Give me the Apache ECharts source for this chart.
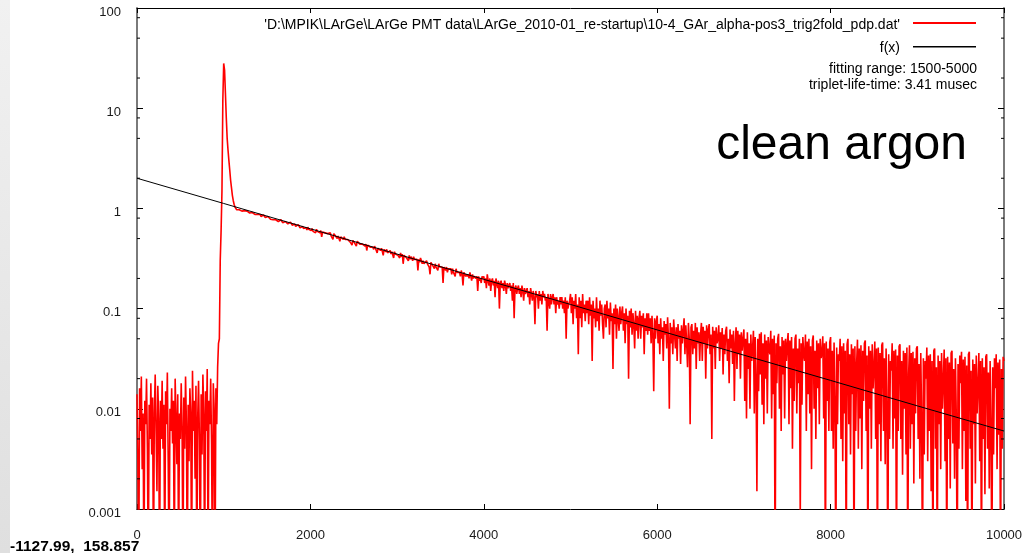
<!DOCTYPE html>
<html><head><meta charset="utf-8">
<script src="https://cdn.jsdelivr.net/npm/echarts@6/dist/echarts.min.js"></script>
<style>html,body{margin:0;padding:0;background:#fff}#c{width:1028px;height:553px}</style>
</head><body><div id="c"></div>
<script>
// ---- data ----
const sampleStep = 10; // x spacing of the recorded samples
// x = 0 .. 890 (pre-trigger baseline noise)
const noiseBefore = [
.014,.003,.0002,.016,.006,.021,.0025,.009,.0002,.012,
.007,.02,.004,.0002,.011,.005,.018,.0035,.013,.0002,
.009,.022,.006,.0015,.017,.008,.0002,.012,.005,.019,
.004,.011,.0002,.015,.007,.023,.003,.0002,.01,.006,
.016,.0045,.012,.0002,.02,.008,.0028,.014,.0002,.009,
.005,.018,.0065,.0002,.013,.004,.021,.007,.0002,.011,
.003,.016,.009,.0002,.024,.006,.012,.002,.017,.0002,
.008,.019,.005,.0002,.014,.0035,.022,.009,.0002,.015,
.006,.025,.0002,.012,.007,.02,.0045,.0002,.018,.01
];
// x = 900 .. 1190 (scintillation pulse)
const pulse = [
.0002,.016,.007,.026,.045,.05,.3,.6,1.5,12,
28,24,14,8,5,3.8,3,2.4,1.9,1.6,
1.35,1.2,1.1,1.03,.99,.97,.98,.95,.97,.94
];
// x = 1200 .. 2990
const slowA = [
.96,.94,.97,.93,.95,.92,.96,.94,.91,.93,
.9,.92,.89,.91,.88,.9,.87,.91,.89,.87,
.86,.84,.87,.83,.85,.82,.86,.84,.81,.83,
.81,.83,.8,.82,.78,.81,.79,.77,.8,.78,
.77,.75,.78,.74,.76,.73,.77,.74,.72,.75,
.72,.74,.71,.73,.7,.72,.69,.73,.7,.68,
.69,.67,.7,.66,.68,.65,.69,.66,.64,.67,
.64,.66,.63,.65,.62,.64,.61,.65,.62,.6,
.62,.6,.63,.59,.61,.6,.57,.62,.59,.6,
.59,.57,.6,.52,.58,.56,.59,.57,.55,.58,
.56,.54,.55,.57,.53,.55,.49,.56,.54,.53,
.52,.5,.53,.51,.47,.52,.5,.51,.49,.52,
.49,.5,.47,.49,.48,.5,.46,.48,.43,.48,
.47,.45,.46,.42,.47,.45,.46,.44,.46,.43,
.44,.43,.45,.42,.44,.38,.43,.42,.44,.41,
.42,.4,.41,.39,.42,.4,.41,.36,.4,.39,
.39,.38,.4,.37,.34,.39,.38,.37,.39,.36,
.37,.36,.38,.35,.37,.36,.32,.37,.35,.36
];
// x = 3000 .. 4990
const slowB = [
.36,.34,.35,.32,.36,.33,.35,.28,.34,.33,
.34,.32,.33,.3,.34,.31,.33,.32,.3,.33,
.31,.32,.3,.31,.24,.31,.29,.32,.3,.28,
.3,.28,.29,.27,.3,.28,.29,.26,.22,.29,
.28,.27,.28,.25,.28,.26,.27,.24,.28,.26,
.27,.25,.26,.18,.26,.25,.24,.26,.23,.25,
.25,.24,.25,.22,.25,.23,.24,.21,.25,.23,
.24,.22,.23,.21,.24,.22,.17,.23,.22,.21,
.22,.21,.22,.2,.23,.21,.19,.22,.2,.21,
.21,.2,.21,.15,.21,.19,.2,.18,.21,.2,
.21,.18,.2,.16,.22,.19,.17,.2,.15,.19,
.2,.17,.19,.13,.2,.18,.16,.19,.1,.18,
.19,.16,.18,.15,.19,.17,.14,.18,.16,.17,
.18,.15,.17,.12,.18,.08,.16,.17,.14,.16,
.17,.14,.16,.13,.17,.15,.12,.16,.14,.15,
.16,.13,.15,.11,.16,.14,.12,.15,.13,.07,
.15,.13,.14,.1,.15,.12,.14,.11,.15,.13,
.14,.12,.13,.06,.14,.12,.1,.14,.11,.13,
.14,.11,.13,.09,.13,.11,.12,.1,.13,.11,
.13,.1,.12,.09,.13,.05,.12,.1,.11,.12
];
// x = 5000 .. 6990
const slowC = [
.14,.09,.13,.07,.12,.1,.14,.08,.11,.035,
.13,.08,.12,.065,.14,.09,.11,.075,.12,.09,
.12,.07,.13,.085,.11,.03,.12,.08,.1,.065,
.13,.075,.1,.06,.12,.085,.11,.07,.05,.1,
.11,.065,.12,.08,.1,.055,.115,.075,.09,.025,
.1,.07,.11,.05,.1,.08,.06,.105,.07,.09,
.105,.06,.09,.045,.1,.07,.085,.02,.095,.065,
.1,.055,.09,.07,.04,.095,.06,.085,.05,.08,
.095,.05,.085,.065,.09,.035,.08,.06,.09,.055,
.09,.06,.08,.045,.085,.055,.015,.08,.05,.075,
.085,.045,.07,.035,.08,.05,.065,.03,.075,.055,
.07,.04,.082,.05,.01,.072,.045,.065,.035,.078,
.075,.04,.065,.03,.07,.05,.06,.028,.068,.045,
.06,.08,.035,.068,.045,.026,.072,.05,.007,.065,
.07,.035,.06,.04,.072,.025,.065,.045,.058,.03,
.055,.072,.03,.066,.045,.06,.02,.068,.04,.062,
.07,.035,.055,.005,.066,.04,.06,.025,.065,.045,
.05,.068,.03,.058,.04,.064,.022,.055,.035,.06,
.066,.03,.05,.018,.062,.04,.055,.028,.06,.012,
.045,.065,.025,.06,.035,.055,.02,.058,.038,.05
];
// x = 7000 .. 8990
const slowD = [
.062,.012,.05,.008,.058,.025,.045,.01,.055,.03,
.04,.06,.009,.052,.02,.0015,.05,.015,.056,.022,
.058,.011,.045,.007,.055,.02,.048,.009,.052,.04,
.035,.06,.008,.05,.014,.054,.0002,.045,.018,.05,
.056,.01,.042,.006,.052,.022,.048,.008,.05,.03,
.045,.057,.007,.048,.016,.052,.004,.04,.012,.05,
.055,.009,.04,.018,.05,.0008,.045,.011,.052,.035,
.03,.055,.006,.047,.014,.05,.009,.042,.0025,.048,
.054,.01,.038,.005,.048,.016,.045,.007,.05,.032,
.036,.053,.008,.045,.0002,.047,.012,.04,.006,.046,
.052,.006,.038,.004,.046,.012,.0002,.041,.007,.035,
.03,.05,.005,.042,.003,.045,.009,.038,.0002,.044,
.05,.007,.035,.0035,.044,.014,.04,.0002,.042,.006,
.028,.049,.004,.04,.008,.043,.0025,.038,.012,.045,
.048,.006,.034,.0002,.042,.01,.038,.004,.044,.016,
.026,.047,.005,.04,.0002,.041,.007,.036,.003,.043,
.046,.006,.032,.0028,.04,.011,.0002,.035,.005,.03,
.024,.045,.004,.038,.008,.039,.0002,.034,.006,.042,
.044,.005,.03,.0022,.038,.01,.036,.0035,.041,.0002,
.022,.043,.004,.036,.007,.037,.0018,.032,.009,.04
];
// x = 9000 .. 10000
const slowE = [
.042,.005,.028,.002,.036,.008,.0002,.032,.0035,.03,
.02,.041,.003,.034,.006,.035,.0015,.03,.0002,.038,
.04,.004,.026,.0002,.034,.007,.03,.0025,.036,.01,
.019,.039,.003,.032,.0002,.033,.005,.029,.0016,.036,
.038,.0045,.025,.002,.032,.008,.0002,.028,.004,.034,
.018,.037,.0025,.031,.006,.033,.0012,.027,.0002,.035,
.037,.004,.024,.0002,.031,.007,.028,.0018,.034,.009,
.017,.036,.003,.03,.0002,.032,.005,.026,.0014,.033,
.035,.004,.023,.0016,.03,.007,.0002,.026,.0035,.032,
.016,.035,.0025,.029,.0055,.031,.0002,.025,.004,.033,
.03
];
// fitted function f(x), read at every 1000
const fitX = [0,1000,2000,3000,4000,5000,6000,7000,8000,9000,10000];
const fitY = [2.0,1.12,.626,.35,.196,.11,.0613,.0343,.0192,.0107,.006];
// axes
const xTickValues = [0,2000,4000,6000,8000,10000];
const yTickLabels = ['0.001','0.01','0.1','1','10','100'];
const yMinorTicks = [.002,.005,.008,.02,.05,.08,.2,.5,.8,2,5,8,20,50,80];
// texts
const seriesName = "'D:\\MPIK\\LArGe\\LArGe PMT data\\LArGe_2010-01_re-startup\\10-4_GAr_alpha-pos3_trig2fold_pdp.dat'";
const fitName = 'f(x)';
const noteLines = ['fitting range: 1500-5000','triplet-life-time: 3.41 musec'];
const bigLabel = 'clean argon';
const cursorText = '-1127.99,  158.857';

// ---- build ----
const signal = [].concat(noiseBefore, pulse, slowA, slowB, slowC, slowD, slowE);
const signalData = signal.map((v, i) => [i * sampleStep, v]);
const fitData = fitX.map((x, i) => [x, fitY[i]]);
const FONT = "'Liberation Sans', Arial, Helvetica, sans-serif";
const xMin = xTickValues[0], xMax = xTickValues[xTickValues.length - 1];
const xInt = xTickValues[1] - xTickValues[0];
const yMin = Number(yTickLabels[0]), yMax = Number(yTickLabels[yTickLabels.length - 1]);

const chart = echarts.init(document.getElementById('c'), null, {renderer: 'canvas'});
const axisX = (pos, showLabel) => ({
  type: 'value', min: xMin, max: xMax, interval: xInt, position: pos,
  axisLine: {show: true, onZero: false, lineStyle: {color: '#000', width: 1}},
  axisTick: {show: true, inside: true, length: 5, lineStyle: {color: '#000'}},
  axisLabel: {show: showLabel, margin: 20, color: '#1a1a1a', fontSize: 13, fontFamily: FONT,
    formatter: v => String(v)},
  splitLine: {show: false}
});
const axisY = (pos, showLabel) => ({
  type: 'log', logBase: 10, min: yMin, max: yMax, position: pos,
  axisLine: {show: true, onZero: false, lineStyle: {color: '#7a7a7a', width: 2}},
  axisTick: {show: true, inside: true, length: 6, lineStyle: {color: '#000'}},
  axisLabel: {show: showLabel, margin: 16, color: '#1a1a1a', fontSize: 13, fontFamily: FONT,
    verticalAlign: 'top', lineHeight: 8,
    formatter: v => yTickLabels[Math.round(Math.log10(v)) - Math.round(Math.log10(yMin))]},
  splitLine: {show: false}, minorTick: {show: false}
});

chart.setOption({
  animation: false,
  backgroundColor: '#fff',
  grid: {left: 137, right: 24, top: 8, bottom: 44},
  xAxis: [axisX('bottom', true), axisX('top', false)],
  yAxis: [axisY('left', true), axisY('right', false)],
  series: [
    {type: 'line', name: seriesName, data: signalData, showSymbol: false, symbol: 'none',
      lineStyle: {color: '#ff0000', width: 1.6}, clip: true, z: 2},
    {type: 'line', name: fitName, data: fitData, showSymbol: false, symbol: 'none',
      lineStyle: {color: '#000', width: 1}, clip: true, z: 3},
    {type: 'custom', data: yMinorTicks.map(v => [xMin, v]), silent: true, z: 4, clip: false,
      renderItem: (params, api) => {
        const v = api.value(1);
        const pl = api.coord([xMin, v]);
        const pr = api.coord([xMax, v]);
        return {type: 'group', children: [
          {type: 'line', shape: {x1: pl[0], y1: pl[1], x2: pl[0] + 3, y2: pl[1]}, style: {stroke: '#000', lineWidth: 1}},
          {type: 'line', shape: {x1: pr[0] - 3, y1: pr[1], x2: pr[0], y2: pr[1]}, style: {stroke: '#000', lineWidth: 1}}
        ]};
      }}
  ],
  graphic: [
    {type: 'rect', shape: {x: 0, y: 0, width: 10, height: 553}, silent: true,
      style: {fill: new echarts.graphic.LinearGradient(0, 0, 0, 1, [{offset: 0, color: '#f1f1f1'}, {offset: 1, color: '#dfdfdf'}])}},
    {type: 'text', x: 900, y: 25, style: {text: seriesName, align: 'right', verticalAlign: 'middle', fontSize: 14, fontFamily: FONT, fill: '#000'}},
    {type: 'rect', shape: {x: 913, y: 22, width: 63, height: 2}, style: {fill: '#ff0000'}, z: 10},
    {type: 'text', x: 900, y: 48.5, style: {text: fitName, align: 'right', verticalAlign: 'middle', fontSize: 14, fontFamily: FONT, fill: '#000'}},
    {type: 'rect', shape: {x: 913, y: 46, width: 63, height: 1.5}, style: {fill: '#000'}},
    {type: 'text', x: 977, y: 69, style: {text: noteLines[0], align: 'right', verticalAlign: 'middle', fontSize: 14, fontFamily: FONT, fill: '#000'}},
    {type: 'text', x: 977, y: 85.5, style: {text: noteLines[1], align: 'right', verticalAlign: 'middle', fontSize: 14, fontFamily: FONT, fill: '#000'}},
    {type: 'text', x: 967, y: 146, style: {text: bigLabel, align: 'right', verticalAlign: 'middle', fontSize: 48, fontFamily: FONT, fill: '#000'}},
    {type: 'text', x: 10, y: 547, style: {text: cursorText, align: 'left', verticalAlign: 'middle', fontSize: 15.5, fontWeight: 'bold', fontFamily: FONT, fill: '#000'}}
  ]
});
</script>
</body></html>
